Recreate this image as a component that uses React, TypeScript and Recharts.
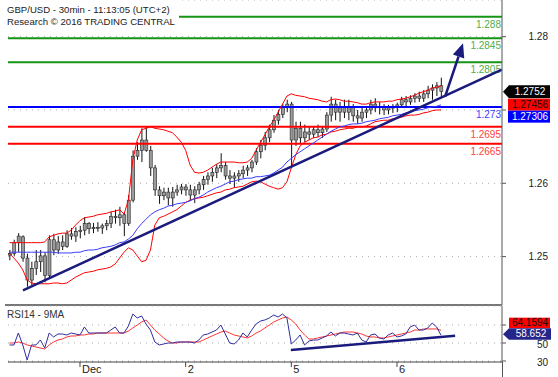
import { Bar, CartesianGrid, ComposedChart, Line, ReferenceLine, XAxis, YAxis } from "recharts";

// hourly bars, index = hours since Nov 30 08:00 (weekend skipped)
const OPEN = [
  1.2502, 1.2504, 1.2519, 1.2527, 1.2498, 1.2468, 1.2484, 1.2493, 1.2501, 1.2474,
  1.2523, 1.2509, 1.252, 1.2514, 1.2531, 1.2528, 1.2534, 1.2536, 1.2545, 1.2538,
  1.254, 1.2539, 1.2542, 1.2545, 1.2555, 1.2553, 1.2557, 1.2545, 1.2577, 1.2637,
  1.2645, 1.2659, 1.2645, 1.2621, 1.2591, 1.2583, 1.2588, 1.258, 1.2588, 1.2591,
  1.2595, 1.2591, 1.2584, 1.2591, 1.2598, 1.2605, 1.261, 1.2615, 1.2621, 1.2624,
  1.261, 1.2607, 1.261, 1.2613, 1.2618, 1.2621, 1.2629, 1.2643, 1.2652, 1.2662,
  1.2673, 1.2686, 1.2694, 1.2703, 1.2708, 1.2659, 1.2675, 1.2662, 1.267, 1.2667,
  1.2673, 1.2669, 1.2674, 1.2693, 1.2708, 1.2697, 1.2703, 1.2697, 1.2703, 1.2692,
  1.2689, 1.2697, 1.27, 1.2708, 1.2703, 1.2705, 1.27, 1.2703, 1.2704, 1.2707,
  1.2714, 1.2711, 1.2716, 1.2719, 1.2716, 1.2722, 1.2727, 1.273, 1.2733,
];
const HIGH = [
  1.2509, 1.2523, 1.2532, 1.2529, 1.2504, 1.2493, 1.2509, 1.2509, 1.2506, 1.2529,
  1.2531, 1.2528, 1.2529, 1.2536, 1.2539, 1.254, 1.2542, 1.2554, 1.2547, 1.2546,
  1.2547, 1.2545, 1.255, 1.2561, 1.2564, 1.2568, 1.2561, 1.2584, 1.2645, 1.2656,
  1.2675, 1.2678, 1.2651, 1.2625, 1.2596, 1.2594, 1.2594, 1.2595, 1.2598, 1.2599,
  1.2599, 1.2598, 1.2596, 1.2602, 1.261, 1.2615, 1.2621, 1.2626, 1.2641, 1.2629,
  1.2618, 1.2615, 1.2618, 1.2624, 1.2625, 1.2632, 1.2648, 1.2659, 1.267, 1.268,
  1.2693, 1.27, 1.2708, 1.2714, 1.2711, 1.2684, 1.2684, 1.268, 1.2678, 1.2677,
  1.268, 1.2678, 1.2697, 1.2718, 1.2714, 1.2711, 1.2714, 1.2714, 1.2708, 1.27,
  1.2703, 1.2705, 1.2714, 1.2716, 1.2711, 1.2708, 1.2707, 1.2708, 1.271, 1.2718,
  1.2719, 1.272, 1.2723, 1.2725, 1.2727, 1.2733, 1.2735, 1.2738, 1.2744,
];
const LOW = [
  1.2495, 1.2501, 1.2506, 1.2493, 1.2459, 1.2461, 1.2475, 1.2479, 1.2465, 1.2471,
  1.2502, 1.2504, 1.2509, 1.2512, 1.2523, 1.252, 1.2525, 1.2529, 1.2531, 1.2532,
  1.2534, 1.2531, 1.2536, 1.2539, 1.2545, 1.2542, 1.2528, 1.2542, 1.2574, 1.2632,
  1.2629, 1.2643, 1.261, 1.2583, 1.2572, 1.2577, 1.257, 1.2568, 1.2583, 1.2585,
  1.2583, 1.2577, 1.2573, 1.2585, 1.2591, 1.2598, 1.2602, 1.2607, 1.2615, 1.2605,
  1.2599, 1.2594, 1.2602, 1.2607, 1.261, 1.2615, 1.2625, 1.2634, 1.2645, 1.2656,
  1.2669, 1.268, 1.2689, 1.2697, 1.2622, 1.2651, 1.2655, 1.2656, 1.2659, 1.2662,
  1.2663, 1.2662, 1.267, 1.2684, 1.2686, 1.2684, 1.2689, 1.2686, 1.2684, 1.2681,
  1.2684, 1.2689, 1.2694, 1.2697, 1.2694, 1.2693, 1.2694, 1.2696, 1.2697, 1.2703,
  1.2705, 1.2707, 1.271, 1.2711, 1.2711, 1.2716, 1.2714, 1.2719, 1.2718,
];
const CLOSE = [
  1.2504, 1.2519, 1.2528, 1.2498, 1.2468, 1.2484, 1.2493, 1.2501, 1.2474, 1.2523,
  1.2509, 1.252, 1.2514, 1.2531, 1.2528, 1.2534, 1.2536, 1.2545, 1.2538, 1.254,
  1.2539, 1.2542, 1.2545, 1.2555, 1.2553, 1.2557, 1.2545, 1.2577, 1.2637, 1.2645,
  1.2659, 1.2645, 1.2621, 1.2591, 1.2583, 1.2588, 1.258, 1.2588, 1.2591, 1.2595,
  1.2591, 1.2584, 1.2591, 1.2598, 1.2605, 1.261, 1.2615, 1.2621, 1.2624, 1.261,
  1.2607, 1.261, 1.2613, 1.2618, 1.2621, 1.2629, 1.2643, 1.2652, 1.2662, 1.2673,
  1.2686, 1.2694, 1.2703, 1.2708, 1.2659, 1.2675, 1.2662, 1.267, 1.2667, 1.2673,
  1.2669, 1.2674, 1.2693, 1.2708, 1.2697, 1.2703, 1.2697, 1.2703, 1.2692, 1.2689,
  1.2697, 1.27, 1.2708, 1.2703, 1.2705, 1.27, 1.2703, 1.2704, 1.2707, 1.2714,
  1.2711, 1.2716, 1.2719, 1.2716, 1.2722, 1.2727, 1.273, 1.2733, 1.2725,
];
const BB_UPPER = [
  1.2519, 1.2519, 1.2519, 1.2519, 1.2519, 1.2519, 1.2519, 1.2519, 1.252, 1.2527,
  1.2529, 1.2531, 1.2532, 1.2532, 1.2536, 1.2543, 1.2549, 1.2553, 1.2554, 1.2555,
  1.2557, 1.2558, 1.2559, 1.2561, 1.2562, 1.2564, 1.2558, 1.2577, 1.2632, 1.2659,
  1.2673, 1.2675, 1.2677, 1.2675, 1.2674, 1.2673, 1.2671, 1.2669, 1.2663, 1.2656,
  1.2645, 1.2625, 1.2615, 1.2614, 1.2615, 1.2618, 1.2622, 1.2626, 1.2629, 1.2629,
  1.2629, 1.2629, 1.2628, 1.2628, 1.2629, 1.2634, 1.2645, 1.2656, 1.2666, 1.2677,
  1.2686, 1.2697, 1.2708, 1.2719, 1.2722, 1.272, 1.2719, 1.2718, 1.2716, 1.2715,
  1.2714, 1.2712, 1.2711, 1.2714, 1.2715, 1.2714, 1.2712, 1.2712, 1.2711, 1.271,
  1.2708, 1.2708, 1.271, 1.2711, 1.2711, 1.2711, 1.2712, 1.2712, 1.2714, 1.2715,
  1.2716, 1.2718, 1.272, 1.2723, 1.2725, 1.2727, 1.273, 1.2731, 1.2733,
];
const BB_LOWER = [
  1.2504, 1.2498, 1.2491, 1.2482, 1.2468, 1.2464, 1.2463, 1.2463, 1.2463, 1.2463,
  1.2464, 1.2464, 1.2463, 1.2464, 1.2468, 1.2472, 1.2475, 1.2478, 1.2479, 1.248,
  1.2482, 1.2483, 1.2484, 1.2486, 1.249, 1.2498, 1.2506, 1.2512, 1.2509, 1.2501,
  1.2493, 1.2495, 1.2509, 1.2543, 1.2553, 1.2555, 1.2558, 1.2561, 1.2564, 1.2569,
  1.2574, 1.2577, 1.2579, 1.258, 1.2581, 1.2583, 1.2585, 1.2587, 1.2588, 1.2591,
  1.2592, 1.2594, 1.2595, 1.2596, 1.2599, 1.2602, 1.2603, 1.2602, 1.2599, 1.2596,
  1.2594, 1.2592, 1.2594, 1.2602, 1.2621, 1.2639, 1.2651, 1.2656, 1.2659, 1.2662,
  1.2663, 1.2666, 1.2667, 1.267, 1.2671, 1.2673, 1.2674, 1.2675, 1.2675, 1.2677,
  1.2677, 1.2678, 1.2681, 1.2684, 1.2685, 1.2686, 1.2686, 1.2688, 1.2689, 1.269,
  1.2692, 1.2693, 1.2693, 1.2694, 1.2696, 1.2697, 1.2699, 1.27, 1.27,
];
const MA_BLUE = [
  1.2506, 1.2506, 1.2506, 1.2506, 1.2506, 1.2506, 1.2506, 1.2506, 1.2506, 1.2506,
  1.2506, 1.2505, 1.2505, 1.2505, 1.2505, 1.2506, 1.2506, 1.2508, 1.2509, 1.2509,
  1.251, 1.2512, 1.2513, 1.2514, 1.2516, 1.2519, 1.252, 1.2524, 1.2529, 1.2538,
  1.2545, 1.2551, 1.2557, 1.2561, 1.2564, 1.2566, 1.2569, 1.257, 1.2572, 1.2573,
  1.2574, 1.2576, 1.2579, 1.2581, 1.2584, 1.2588, 1.2591, 1.2594, 1.2596, 1.2599,
  1.2602, 1.2603, 1.2605, 1.2606, 1.2607, 1.2607, 1.2609, 1.2609, 1.261, 1.2611,
  1.2614, 1.2618, 1.2622, 1.2629, 1.2634, 1.2639, 1.2643, 1.2647, 1.2651, 1.2655,
  1.2659, 1.2663, 1.2667, 1.2671, 1.2674, 1.2677, 1.2678, 1.268, 1.2681, 1.2681,
  1.2682, 1.2684, 1.2685, 1.2686, 1.2688, 1.2689, 1.269, 1.2692, 1.2693, 1.2694,
  1.2696, 1.2697, 1.2699, 1.27, 1.2701, 1.2703, 1.2704, 1.2705, 1.2707,
];
const RSI = [
  47.8, 47.8, 61.1, 47.8, 31.1, 47.8, 47.8, 53.3, 44.4, 61.1,
  56.7, 60.0, 60.0, 58.9, 61.1, 60.0, 58.9, 67.8, 61.1, 61.1,
  61.1, 61.1, 61.1, 64.4, 67.8, 61.1, 61.1, 68.9, 82.2, 77.8,
  80.0, 71.1, 64.4, 51.1, 47.8, 48.9, 50.0, 50.0, 51.1, 51.1,
  51.1, 51.1, 50.0, 53.3, 58.9, 60.0, 62.2, 64.4, 70.0, 60.0,
  50.0, 48.9, 53.3, 61.1, 56.7, 64.4, 71.1, 74.4, 75.6, 77.8,
  81.1, 78.9, 82.2, 77.8, 48.9, 53.3, 58.9, 47.8, 52.2, 53.3,
  53.3, 55.6, 57.8, 62.2, 57.8, 61.1, 61.1, 60.0, 58.9, 61.1,
  53.3, 51.1, 58.9, 60.0, 55.6, 54.4, 58.9, 61.1, 56.7, 57.8,
  60.0, 67.8, 70.0, 64.4, 64.4, 66.7, 72.2, 67.8, 58.7,
];
const RSI_MA = [
  50.0, 50.0, 51.1, 50.0, 47.8, 46.7, 45.6, 44.4, 43.3, 47.8,
  51.1, 53.3, 54.4, 56.7, 57.8, 57.8, 58.9, 58.9, 60.0, 60.0,
  61.1, 61.1, 61.1, 61.1, 61.1, 61.1, 61.1, 63.3, 66.7, 70.0,
  73.3, 75.6, 70.0, 64.4, 60.0, 55.6, 52.2, 50.0, 50.0, 51.1,
  51.1, 51.1, 51.1, 51.1, 53.3, 55.6, 57.8, 60.0, 62.2, 63.3,
  61.1, 58.9, 57.8, 56.7, 55.6, 57.8, 61.1, 63.3, 66.7, 70.0,
  73.3, 75.6, 77.8, 78.9, 75.6, 71.1, 64.4, 58.9, 54.4, 54.4,
  55.6, 56.7, 57.8, 58.9, 60.0, 61.1, 62.2, 62.2, 62.2, 61.1,
  60.0, 57.8, 56.7, 56.7, 55.6, 55.6, 56.7, 57.8, 58.9, 60.0,
  61.1, 62.2, 64.4, 64.4, 65.6, 65.6, 65.6, 65.6, 64.2,
];

const DAY_TICKS = [16, 40, 64, 88];
const DAY_LABELS = ["Dec", "2", "5", "6"];
const PRICE_TICKS = [1.25, 1.26, 1.27, 1.28];
const PRICE_TICK_LABELS = ["1.25", "1.26", "", "1.28"];
const RSI_TICKS = [30, 50, 70];
const RSI_TICK_LABELS = ["30", "50", ""];

const LEVEL_VALUES = [1.2827, 1.2798, 1.2765, 1.2704, 1.2677, 1.2654];
const LEVEL_LABELS = ["1.288", "1.2845", "1.2805", "1.273", "1.2695", "1.2665"];
const LEVEL_KINDS = ["res", "res", "res", "pivot", "sup", "sup"];

const TREND_MAIN = [
  { x: 3.05, y: 1.2454 },
  { x: 111.8, y: 1.2755 },
];
const TARGET_ARROW = [
  { x: 98.9, y: 1.2718 },
  { x: 103.0, y: 1.2791 },
];
const TREND_RSI = [
  { x: 63.9, y: 42.2 },
  { x: 101.2, y: 58.1 },
];
const PRICE_TAGS = ["1.2752", "1.27456", "1.27306"];
const RSI_TAGS = ["58.652", "64.1594"];

const X_DOMAIN = [-0.35, 111.85];
const PRICE_DOMAIN = [1.2434, 1.285];
const RSI_DOMAIN = [28.89, 91.11];

const FONT = "'Liberation Sans', Arial, sans-serif";
const NAVY = "#1b1b7e";
const KIND_COLORS: Record<string, { line: string; text: string }> = {
  res: { line: "#159515", text: "#4fae4f" },
  pivot: { line: "#0000ff", text: "#3b3bff" },
  sup: { line: "#ff0000", text: "#ff4040" },
};

const priceRows = CLOSE.map((close, i) => ({
  i,
  open: OPEN[i],
  high: HIGH[i],
  low: LOW[i],
  close,
  upper: BB_UPPER[i],
  lower: BB_LOWER[i],
  ma: MA_BLUE[i],
}));
const rsiRows = RSI.map((rsi, i) => ({ i, rsi, rsiMa: RSI_MA[i] }));

function Candle(props: any) {
  const { x, y, width, height, payload } = props;
  if (!payload) return null;
  const top = Math.min(y, y + height);
  const h = Math.abs(height);
  const range = payload.high - payload.low;
  const k = range > 0 ? h / range : 0;
  const cx = x + width / 2;
  const bTop = top + (payload.high - Math.max(payload.open, payload.close)) * k;
  const bBot = top + (payload.high - Math.min(payload.open, payload.close)) * k;
  return (
    <g>
      <line x1={cx} x2={cx} y1={top} y2={top + h} stroke="#111" strokeWidth={1} />
      <rect
        x={cx - 1.5}
        y={bTop}
        width={3}
        height={Math.max(1, bBot - bTop)}
        fill="#9b9b9b"
        stroke="#222"
        strokeWidth={0.6}
      />
    </g>
  );
}

function ArrowShape(props: any) {
  const { x1, y1, x2, y2 } = props;
  const ang = Math.atan2(y2 - y1, x2 - x1);
  const len = 14;
  const half = 6;
  const bx = x2 - len * Math.cos(ang);
  const by = y2 - len * Math.sin(ang);
  const px = -Math.sin(ang) * half;
  const py = Math.cos(ang) * half;
  return (
    <g>
      <line x1={x1} y1={y1} x2={bx} y2={by} stroke={NAVY} strokeWidth={2.5} />
      <polygon points={`${x2},${y2} ${bx + px},${by + py} ${bx - px},${by - py}`} fill={NAVY} />
    </g>
  );
}

function PriceTick(props: any) {
  const { x, y, payload } = props;
  const label = PRICE_TICK_LABELS[PRICE_TICKS.indexOf(payload.value)];
  return (
    <text x={x + 40} y={y + 3.5} textAnchor="end" fontSize={10} fill="#222" fontFamily={FONT}>
      {label}
    </text>
  );
}

function RsiTick(props: any) {
  const { x, y, payload } = props;
  const label = RSI_TICK_LABELS[RSI_TICKS.indexOf(payload.value)];
  return (
    <text x={x + 40} y={y + 5} textAnchor="end" fontSize={10} fill="#222" fontFamily={FONT}>
      {label}
    </text>
  );
}

function DayTick(props: any) {
  const { x, y, payload } = props;
  const label = DAY_LABELS[DAY_TICKS.indexOf(payload.value)];
  return (
    <text x={x + 2} y={y + 6} fontSize={11} fill="#222" fontFamily={FONT}>
      {label}
    </text>
  );
}

function levelLabel(text: string, color: string) {
  return (props: any) => {
    const vb = props.viewBox;
    return (
      <text x={vb.x + vb.width - 1} y={vb.y + 11} textAnchor="end" fontSize={10} fill={color} fontFamily={FONT}>
        {text}
      </text>
    );
  };
}

function priceTags(props: any) {
  const vb = props.viewBox;
  const ax = vb.x + vb.width + 1;
  const cy = vb.y;
  return (
    <g fontFamily={FONT} fontSize={10}>
      <polygon
        points={`${ax},${cy} ${ax + 6},${cy - 6.5} ${ax + 47},${cy - 6.5} ${ax + 47},${cy + 6.5} ${ax + 6},${cy + 6.5}`}
        fill="#000"
      />
      <text x={ax + 27} y={cy + 3.5} textAnchor="middle" fill="#fff">
        {PRICE_TAGS[0]}
      </text>
      <rect x={ax + 5} y={cy + 7} width={42} height={12} fill="#ff0000" />
      <text x={ax + 27} y={cy + 16.5} textAnchor="middle" fill="#111">
        {PRICE_TAGS[1]}
      </text>
      <rect x={ax + 5} y={cy + 19} width={42} height={12} fill="#0000ff" />
      <text x={ax + 27} y={cy + 28.5} textAnchor="middle" fill="#fff">
        {PRICE_TAGS[2]}
      </text>
    </g>
  );
}

function rsiTags(props: any) {
  const vb = props.viewBox;
  const ax = vb.x + vb.width + 1;
  const cy = vb.y;
  return (
    <g fontFamily={FONT} fontSize={10}>
      <rect x={ax + 6} y={cy - 17.5} width={41} height={10.5} fill="#ff0000" />
      <text x={ax + 27} y={cy - 8.7} textAnchor="middle" fill="#111">
        {RSI_TAGS[1]}
      </text>
      <polygon
        points={`${ax},${cy - 1} ${ax + 6},${cy - 7} ${ax + 48},${cy - 7} ${ax + 48},${cy + 4.5} ${ax + 6},${cy + 4.5}`}
        fill="#26268a"
      />
      <text x={ax + 28} y={cy + 2.3} textAnchor="middle" fill="#fff">
        {RSI_TAGS[0]}
      </text>
    </g>
  );
}

export default function App() {
  return (
    <div
      style={{
        position: "absolute",
        left: 0,
        top: 0,
        width: 558,
        height: 377,
        background: "#fff",
        fontFamily: FONT,
        overflow: "hidden",
      }}
    >
      <div style={{ position: "absolute", left: 0, top: 0 }}>
        <ComposedChart width={558} height={305} data={priceRows} margin={{ top: 0, right: 0, bottom: 0, left: 8 }}>
          <CartesianGrid vertical={false} stroke="#aaa" strokeDasharray="1 5" />
          <XAxis dataKey="i" type="number" domain={X_DOMAIN} allowDataOverflow hide />
          <YAxis
            orientation="right"
            width={56}
            type="number"
            domain={PRICE_DOMAIN}
            ticks={PRICE_TICKS}
            allowDataOverflow
            interval={0}
            tickSize={4}
            tickMargin={2}
            axisLine={{ stroke: "#555" }}
            tickLine={{ stroke: "#555" }}
            tick={<PriceTick />}
          />
          {LEVEL_VALUES.map((v, k) => {
            const c = KIND_COLORS[LEVEL_KINDS[k]];
            return (
              <ReferenceLine
                key={LEVEL_LABELS[k]}
                y={v}
                stroke={c.line}
                strokeWidth={2}
                label={levelLabel(LEVEL_LABELS[k], c.text)}
              />
            );
          })}
          <Line type="linear" dataKey="upper" stroke="#ff0000" strokeWidth={1} dot={false} activeDot={false} isAnimationActive={false} />
          <Line type="linear" dataKey="lower" stroke="#ff0000" strokeWidth={1} dot={false} activeDot={false} isAnimationActive={false} />
          <Line type="linear" dataKey="ma" stroke="#3b3bff" strokeWidth={1} dot={false} activeDot={false} isAnimationActive={false} />
          <Bar
            dataKey={(d: any) => [d.low, d.high]}
            barSize={3}
            shape={Candle}
            isAnimationActive={false}
          />
          <ReferenceLine segment={TREND_MAIN} stroke={NAVY} strokeWidth={2.5} ifOverflow="visible" />
          <ReferenceLine segment={TARGET_ARROW} ifOverflow="visible" shape={ArrowShape} />
          <ReferenceLine y={CLOSE[CLOSE.length - 1]} stroke="none" label={priceTags} />
        </ComposedChart>
      </div>

      <div
        style={{
          position: "absolute",
          left: 0,
          top: 0,
          padding: "4px 4px 3px 7px",
          background: "#fff",
          color: "#222",
          fontSize: 9.6,
          lineHeight: "12px",
          whiteSpace: "nowrap",
        }}
      >
        <div>GBP/USD - 30min - 11:13:05 (UTC+2)</div>
        <div>Research © 2016 TRADING CENTRAL</div>
      </div>

      <div style={{ position: "absolute", left: 5, top: 304, width: 497, height: 2, background: "#777" }} />

      <div style={{ position: "absolute", left: 0, top: 305 }}>
        <ComposedChart width={558} height={72} data={rsiRows} margin={{ top: 1, right: 0, bottom: 0, left: 8 }}>
          <CartesianGrid vertical={false} stroke="#aaa" strokeDasharray="1 5" />
          <XAxis
            dataKey="i"
            type="number"
            domain={X_DOMAIN}
            allowDataOverflow
            ticks={DAY_TICKS}
            interval={0}
            height={15}
            tickSize={5}
            tickMargin={0}
            axisLine={{ stroke: "#444" }}
            tickLine={{ stroke: "#444" }}
            tick={<DayTick />}
          />
          <YAxis
            orientation="right"
            width={56}
            type="number"
            domain={RSI_DOMAIN}
            ticks={RSI_TICKS}
            allowDataOverflow
            interval={0}
            tickSize={4}
            tickMargin={2}
            axisLine={{ stroke: "#555" }}
            tickLine={{ stroke: "#555" }}
            tick={<RsiTick />}
          />
          <Line type="linear" dataKey="rsiMa" stroke="#ff3333" strokeWidth={1} dot={false} activeDot={false} isAnimationActive={false} />
          <Line type="linear" dataKey="rsi" stroke="#2e2ea0" strokeWidth={1} dot={false} activeDot={false} isAnimationActive={false} />
          <ReferenceLine segment={TREND_RSI} stroke={NAVY} strokeWidth={2.5} ifOverflow="visible" />
          <ReferenceLine y={RSI[RSI.length - 1]} stroke="none" label={rsiTags} />
        </ComposedChart>
      </div>

      <div style={{ position: "absolute", left: 7, top: 309, fontSize: 10, color: "#333" }}>RSI14 - 9MA</div>
      <div style={{ position: "absolute", left: 502, top: 362, width: 1, height: 15, background: "#555" }} />
    </div>
  );
}
